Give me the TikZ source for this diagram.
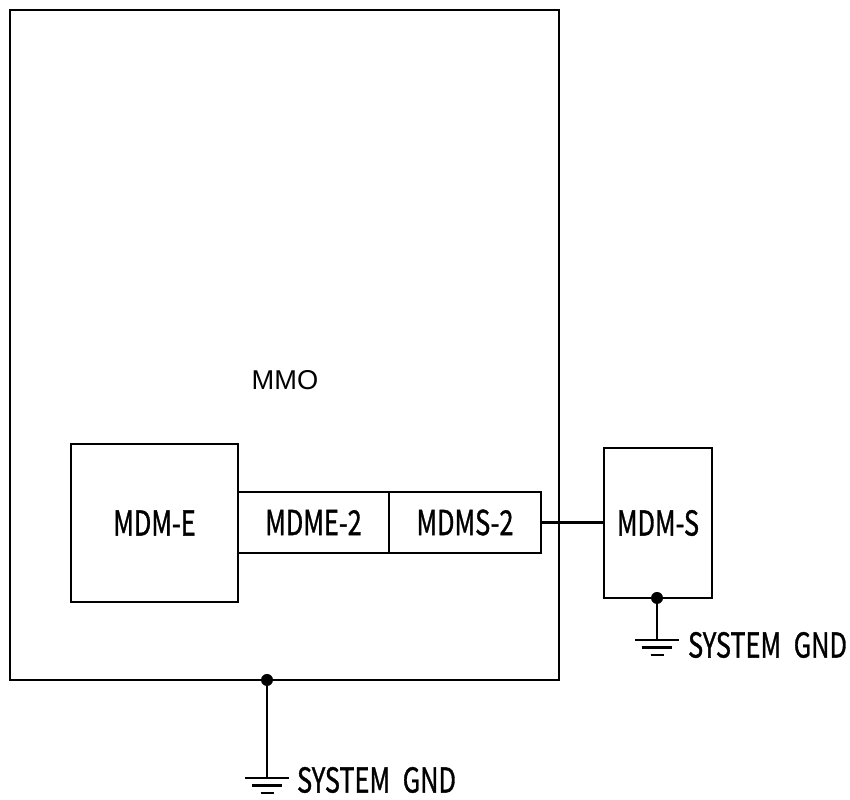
\documentclass[tikz,border=0pt]{standalone}
\usepackage{fontspec}
\newfontfamily\gothic[FakeBold=1.2]{Noto Sans CJK JP}
\newfontfamily\plainsans{Liberation Sans}
\newcommand{\narrow}[1]{\scalebox{0.74}[1]{#1}}
\tikzset{
  unit/.style={draw, rectangle, inner sep=0pt, font=\gothic\fontsize{19.5}{20}\selectfont},
  gndlabel/.style={anchor=west, inner sep=0pt, font=\gothic\fontsize{19.5}{20}\selectfont},
  pics/earth/.style={code={
    \draw (0,0) -- (0,-#1);
    \draw (-0.44,-#1) -- (0.44,-#1);
    \draw (-0.3,-#1-0.15) -- (0.3,-#1-0.15);
    \draw (-0.13,-#1-0.3) -- (0.13,-#1-0.3);
  }}
}

\begin{document}
\begin{tikzpicture}[line width=1.2pt]
    \useasboundingbox (0,0) rectangle (17,16);
    % Khung MMO
    \node[draw, rectangle, minimum width=10.98cm, minimum height=13.4cm] (mmo) at (5.69,9.1) {};
    \node[font=\plainsans\fontsize{15.5}{16}\selectfont] (mmolabel) at (5.7,8.4) {MMO};
    % Cac khoi ben trong
    \node[unit, minimum width=3.34cm, minimum height=3.16cm] (mdme) at (3.09,5.54) {\narrow{MDM-E}};
    \node[unit, minimum width=3.02cm, minimum height=1.22cm] (mdme2) at (6.27,5.55) {\narrow{MDME-2}};
    \node[unit, minimum width=3.04cm, minimum height=1.22cm] (mdms2) at (9.30,5.55) {\narrow{MDMS-2}};
    \node[unit, minimum width=2.16cm, minimum height=3.0cm] (mdms) at (13.16,5.54) {\narrow{MDM-S}};
    % Day noi
    \draw (mdms2.east) -- (mdms2.east -| mdms.west);
    % Noi dat
    \coordinate (gnds) at (13.14,4.04);
    \coordinate (gndm) at (5.34,2.4);
    \fill (gnds) circle (0.12);
    \fill (gndm) circle (0.12);
    \pic at (gnds) {earth=0.84};
    \pic at (gndm) {earth=1.96};
    \node[gndlabel] (gndslabel) at (13.74,3.1) {\narrow{SYSTEM\enspace GND}};
    \node[gndlabel] (gndmlabel) at (5.92,0.4) {\narrow{SYSTEM\enspace GND}};
\end{tikzpicture}
\end{document}
